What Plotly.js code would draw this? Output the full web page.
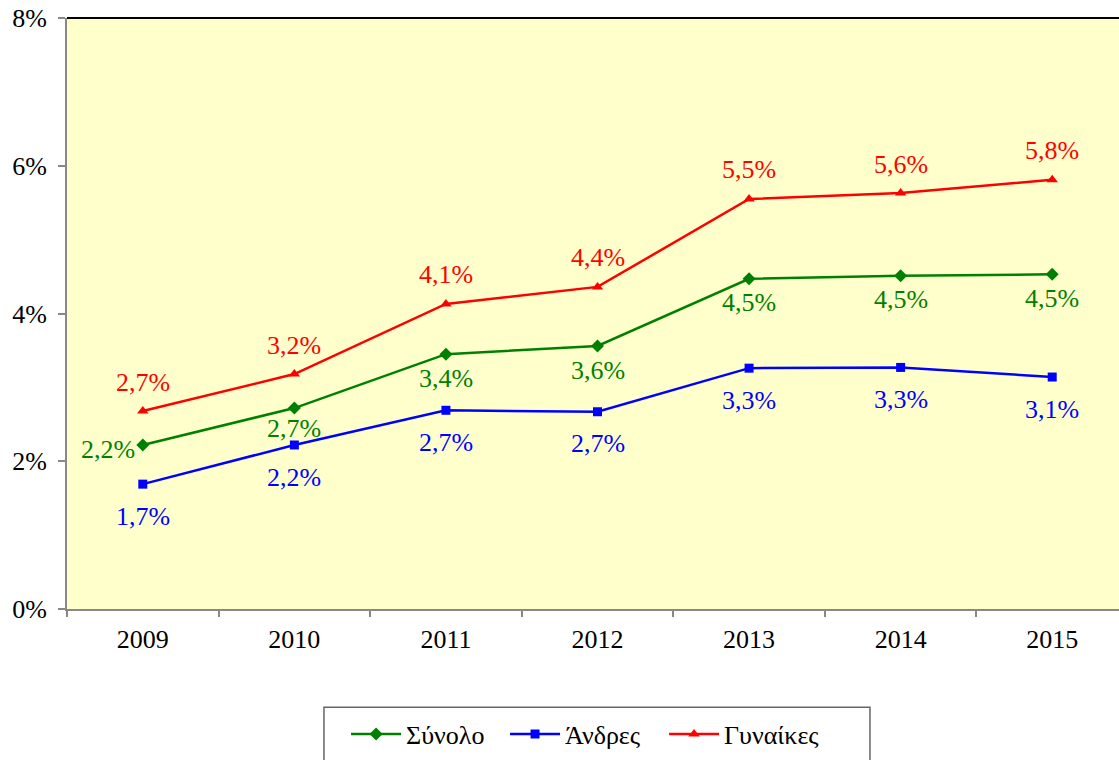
<!DOCTYPE html>
<html>
<head>
<meta charset="utf-8">
<script src="https://cdn.plot.ly/plotly-3.0.1.min.js"></script>
<style>
html,body{margin:0;padding:0;overflow:hidden;background:#fff;width:1119px;height:760px;}
#chart{width:1130px;height:760px;}
</style>
</head>
<body>
<div id="chart"></div>
<script>
const years = ['2009','2010','2011','2012','2013','2014','2015'];
const totalVals = [2.22, 2.72, 3.45, 3.56, 4.47, 4.51, 4.53];
const menVals   = [1.69, 2.22, 2.69, 2.67, 3.26, 3.27, 3.14];
const womenVals = [2.68, 3.18, 4.13, 4.36, 5.55, 5.63, 5.81];
const totalLabels = ['2,2%','2,7%','3,4%','3,6%','4,5%','4,5%','4,5%'];
const menLabels   = ['1,7%','2,2%','2,7%','2,7%','3,3%','3,3%','3,1%'];
const womenLabels = ['2,7%','3,2%','4,1%','4,4%','5,5%','5,6%','5,8%'];
const seriesNames = ['Σύνολο','Άνδρες','Γυναίκες'];
const yTicks = [0, 2, 4, 6, 8];

const FONT = "'Liberation Serif', 'Times New Roman', serif";
const FS = 26;
const GREEN = '#008000', BLUE = '#0000FF', RED = '#FF0000';

const traces = [
  {
    x: years, y: totalVals, name: seriesNames[0], type: 'scatter',
    mode: 'lines+markers',
    line: {color: GREEN, width: 2.5},
    marker: {symbol: 'diamond', size: 10, color: GREEN},
    cliponaxis: false, hoverinfo: 'skip'
  },
  {
    x: years, y: menVals, name: seriesNames[1], type: 'scatter',
    mode: 'lines+markers',
    line: {color: BLUE, width: 2.5},
    marker: {symbol: 'square', size: 9, color: BLUE},
    cliponaxis: false, hoverinfo: 'skip'
  },
  {
    x: years, y: womenVals, name: seriesNames[2], type: 'scatter',
    mode: 'lines+markers',
    line: {color: RED, width: 2.5},
    marker: {symbol: 'triangle-up', size: 10, color: RED},
    cliponaxis: false, hoverinfo: 'skip'
  }
];

// data labels placed at each point through the axes (category index), with pixel offsets
const annotations = [];
years.forEach((yr, i) => {
  annotations.push({
    x: i, y: womenVals[i], xref: 'x', yref: 'y', text: womenLabels[i],
    showarrow: false, yshift: 29, xanchor: 'center', yanchor: 'middle',
    font: {family: FONT, size: FS, color: RED}
  });
  annotations.push({
    x: i, y: menVals[i], xref: 'x', yref: 'y', text: menLabels[i],
    showarrow: false, yshift: -32, xanchor: 'center', yanchor: 'middle',
    font: {family: FONT, size: FS, color: BLUE}
  });
  if (i === 0) {
    annotations.push({
      x: i, y: totalVals[i], xref: 'x', yref: 'y', text: totalLabels[i],
      showarrow: false, xshift: -6, yshift: -4, xanchor: 'right', yanchor: 'middle',
      font: {family: FONT, size: FS, color: GREEN}
    });
  } else {
    annotations.push({
      x: i, y: totalVals[i], xref: 'x', yref: 'y', text: totalLabels[i],
      showarrow: false, yshift: (i === 1 ? -20 : -24), xanchor: 'center', yanchor: 'middle',
      font: {family: FONT, size: FS, color: GREEN}
    });
  }
});

const layout = {
  width: 1130, height: 760,
  autosize: false,
  margin: {l: 67, r: 2, t: 18, b: 147},
  paper_bgcolor: '#ffffff',
  plot_bgcolor: '#FFFFCC',
  font: {family: FONT, size: FS, color: '#000'},
  showlegend: true,
  legend: {
    orientation: 'h',
    x: 0.263, xanchor: 'left',
    y: -0.172, yanchor: 'top',
    borderwidth: 0, bgcolor: 'rgba(0,0,0,0)',
    font: {family: FONT, size: FS, color: '#000'},
    itemwidth: 50,
    entrywidth: 94,
    traceorder: 'normal'
  },
  annotations: annotations,
  xaxis: {
    type: 'category',
    range: [-0.5, 6.5],
    tickson: 'boundaries',
    showgrid: false, zeroline: false,
    showline: true, linecolor: '#888', linewidth: 2,
    ticks: 'outside', ticklen: 6, tickcolor: '#888', tickwidth: 2,
    tickfont: {family: FONT, size: FS, color: '#000'},
    ticklabelstandoff: 6,
    fixedrange: true
  },
  yaxis: {
    range: [0, 8],
    tickvals: yTicks,
    ticktext: yTicks.map(v => v + '%'),
    showgrid: false, zeroline: false,
    showline: true, linecolor: '#888', linewidth: 2,
    ticks: 'outside', ticklen: 7, tickcolor: '#888', tickwidth: 2,
    tickfont: {family: FONT, size: FS, color: '#000'},
    ticklabelstandoff: 6,
    fixedrange: true
  },
  shapes: [
    {type: 'line', xref: 'paper', yref: 'paper', x0: 0, x1: 1, y0: 1, y1: 1,
     line: {color: '#000', width: 2}},
    // legend frame
    {type: 'rect', xref: 'paper', yref: 'paper',
     x0: 0.2422, x1: 0.7568, y0: -0.1664, y1: -0.30,
     line: {color: '#666', width: 1.5}, fillcolor: 'rgba(0,0,0,0)', layer: 'above'}
  ]
};

Plotly.newPlot('chart', traces, layout, {displayModeBar: false, staticPlot: true});
</script>
</body>
</html>
